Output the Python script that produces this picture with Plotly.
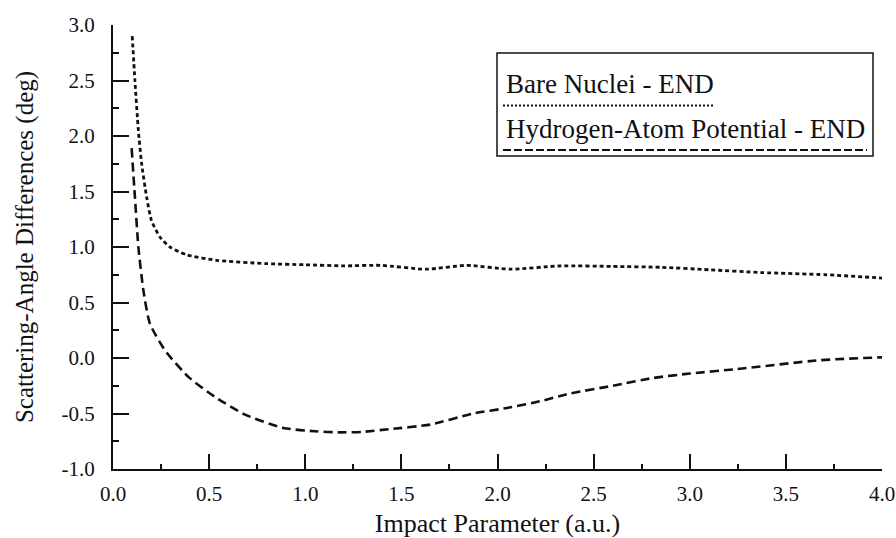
import plotly.graph_objects as go

# ---- data ----
bare_x = [0.10, 0.114, 0.132, 0.149, 0.175, 0.20, 0.244, 0.296, 0.383, 0.539, 0.80, 1.0, 1.2, 1.39,
          1.63, 1.84, 2.065, 2.33, 2.6, 2.85, 3.1, 3.37, 3.71, 4.0]
bare_y = [2.90, 2.50, 2.05, 1.75, 1.45, 1.24, 1.09, 1.00, 0.93, 0.88, 0.85, 0.84, 0.83, 0.835,
          0.80, 0.835, 0.80, 0.83, 0.825, 0.817, 0.795, 0.77, 0.75, 0.72]

hyd_x = [0.097, 0.114, 0.132, 0.158, 0.192, 0.27, 0.392, 0.53, 0.687, 0.886, 1.05, 1.18, 1.3, 1.44,
         1.65, 1.874, 2.05, 2.22, 2.377, 2.6, 2.81, 3.0, 3.244, 3.677, 4.0]
hyd_y = [1.89, 1.45, 1.00, 0.61, 0.31, 0.07, -0.17, -0.35, -0.51, -0.63, -0.66, -0.67, -0.665, -0.64,
         -0.60, -0.50, -0.45, -0.39, -0.32, -0.25, -0.18, -0.14, -0.10, -0.02, 0.006]

x_tickvals = [0.0, 0.5, 1.0, 1.5, 2.0, 2.5, 3.0, 3.5, 4.0]
x_ticktext = ["0.0", "0.5", "1.0", "1.5", "2.0", "2.5", "3.0", "3.5", "4.0"]
y_tickvals = [-1.0, -0.5, 0.0, 0.5, 1.0, 1.5, 2.0, 2.5, 3.0]
y_ticktext = ["-1.0", "-0.5", "0.0", "0.5", "1.0", "1.5", "2.0", "2.5", "3.0"]

series_names = ["Bare Nuclei - END", "Hydrogen-Atom Potential - END"]

FONT = "'Liberation Serif', 'Times New Roman', 'DejaVu Serif', serif"

fig = go.Figure()
fig.add_trace(go.Scatter(x=bare_x, y=bare_y, mode="lines", name=series_names[0],
                         line=dict(color="#111", width=2.8, dash="4px,3px", shape="spline", smoothing=0.6),
                         showlegend=False))
fig.add_trace(go.Scatter(x=hyd_x, y=hyd_y, mode="lines", name=series_names[1],
                         line=dict(color="#111", width=2.6, dash="9px,5px", shape="spline", smoothing=0.6),
                         showlegend=False))

axis_common = dict(showgrid=False, zeroline=False, showline=True, linecolor="#111", linewidth=2,
                   ticks="inside", tickcolor="#111", tickwidth=1.5, mirror=False, automargin=False,
                   tickfont=dict(family=FONT, size=21, color="#111"))

fig.update_xaxes(range=[0, 4], tickvals=x_tickvals, ticktext=x_ticktext, ticklen=15,
                 minor=dict(dtick=0.25, ticks="inside", ticklen=5, tickcolor="#111", tickwidth=1.5),
                 ticklabelstandoff=5,
                 title=dict(text="Impact Parameter (a.u.)", font=dict(family=FONT, size=26, color="#111"),
                            standoff=12),
                 **axis_common)
fig.update_yaxes(range=[-1, 3], tickvals=y_tickvals, ticktext=y_ticktext, ticklen=16,
                 minor=dict(dtick=0.25, ticks="inside", ticklen=6, tickcolor="#111", tickwidth=1.5),
                 ticklabelstandoff=12,
                 title=dict(text="Scattering-Angle Differences (deg)",
                            font=dict(family=FONT, size=25, color="#111"), standoff=21),
                 **axis_common)

L, R, T, B = 113, 14, 25, 69
W, H = 896, 538
pw, ph = W - L - R, H - T - B


def px(xp):
    return (xp - L) / pw


def py(yp):
    return (H - B - yp) / ph


shapes = [
    dict(type="rect", xref="paper", yref="paper", x0=px(497), x1=px(873), y0=py(156), y1=py(53),
         line=dict(color="#111", width=1.5), fillcolor="white", layer="below"),
    dict(type="line", xref="paper", yref="paper", x0=px(503), x1=px(715), y0=py(105.5), y1=py(105.5),
         line=dict(color="#111", width=1.8, dash="2px,2px")),
    dict(type="line", xref="paper", yref="paper", x0=px(503), x1=px(867), y0=py(150), y1=py(150),
         line=dict(color="#111", width=1.8, dash="8px,3px")),
]
annotations = [
    dict(xref="paper", yref="paper", x=px(504), y=py(84), xanchor="left", yanchor="middle",
         text=series_names[0], showarrow=False, font=dict(family=FONT, size=27, color="#111")),
    dict(xref="paper", yref="paper", x=px(504), y=py(129), xanchor="left", yanchor="middle",
         text=series_names[1], showarrow=False, font=dict(family=FONT, size=27, color="#111")),
]

fig.update_layout(width=W, height=H, margin=dict(l=L, r=R, t=T, b=B, autoexpand=False),
                  paper_bgcolor="white", plot_bgcolor="white",
                  shapes=shapes, annotations=annotations, showlegend=False)

fig.write_html("out.html")
